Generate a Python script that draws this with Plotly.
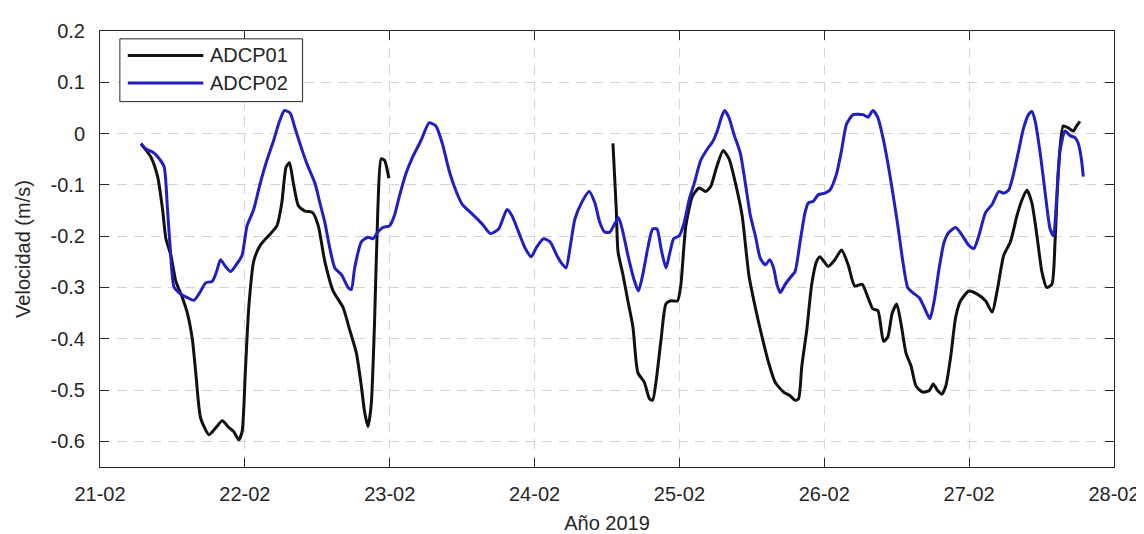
import pandas as pd
import plotly.graph_objects as go

# ---------------- data (time in days since 2019-02-21 00:00) ----------------
start_date = "2019-02-21"

adcp01_days = [
    0.283, 0.352, 0.398, 0.432, 0.455, 0.489, 0.523, 0.569, 0.604, 0.638, 0.661, 0.695,
    0.752, 0.798, 0.844, 0.889, 0.923, 0.958, 0.981, 1.003, 1.027, 1.061, 1.106, 1.164,
    1.221, 1.255, 1.285, 1.308, 1.335, 1.370, 1.415, 1.468, 1.507, 1.552, 1.610, 1.678,
    1.724, 1.770, 1.804, 1.827, 1.850, 1.872, 1.895, 1.918, 1.941, 1.964, 1.994,
    None,
    3.541, 3.564, 3.576, 3.610, 3.644, 3.679, 3.713, 3.758, 3.793, 3.815, 3.838, 3.873,
    3.907, 3.941, 3.987, 4.010, 4.044, 4.090, 4.136, 4.181, 4.216, 4.257, 4.302, 4.342,
    4.387, 4.433, 4.479, 4.524, 4.570, 4.616, 4.661, 4.719, 4.764, 4.798, 4.822, 4.845,
    4.879, 4.913, 4.947, 4.970, 5.027, 5.073, 5.119, 5.165, 5.210, 5.262, 5.302, 5.336,
    5.370, 5.409, 5.439, 5.468, 5.500, 5.530, 5.564, 5.599, 5.633, 5.679, 5.725, 5.752,
    5.782, 5.811, 5.839, 5.873, 5.907, 5.941, 5.998, 6.056, 6.113, 6.159, 6.193, 6.239,
    6.285, 6.330, 6.365, 6.399, 6.433, 6.468, 6.502, 6.536, 6.571, 6.593, 6.616, 6.650,
    6.685, 6.719, 6.742, 6.765,
]
adcp01_vel = [
    -0.020, -0.046, -0.084, -0.148, -0.205, -0.237, -0.287, -0.320, -0.351, -0.402, -0.466, -0.555,
    -0.587, -0.574, -0.560, -0.573, -0.581, -0.597, -0.581, -0.466, -0.339, -0.249, -0.218, -0.199,
    -0.180, -0.135, -0.065, -0.057, -0.097, -0.141, -0.151, -0.154, -0.180, -0.249, -0.307, -0.339,
    -0.383, -0.428, -0.492, -0.543, -0.571, -0.530, -0.371, -0.148, -0.049, -0.052, -0.087,
    None,
    -0.019, -0.148, -0.230, -0.275, -0.326, -0.377, -0.466, -0.485, -0.517, -0.520, -0.485, -0.402,
    -0.332, -0.326, -0.326, -0.294, -0.180, -0.122, -0.106, -0.113, -0.103, -0.065, -0.033, -0.049,
    -0.097, -0.160, -0.275, -0.339, -0.396, -0.447, -0.485, -0.504, -0.511, -0.520, -0.517, -0.453,
    -0.383, -0.294, -0.249, -0.240, -0.259, -0.246, -0.227, -0.256, -0.297, -0.294, -0.320, -0.342,
    -0.345, -0.405, -0.396, -0.351, -0.332, -0.371, -0.428, -0.453, -0.492, -0.504, -0.501, -0.488,
    -0.501, -0.508, -0.492, -0.434, -0.358, -0.326, -0.307, -0.313, -0.326, -0.348, -0.307, -0.237,
    -0.211, -0.160, -0.129, -0.110, -0.135, -0.199, -0.269, -0.300, -0.294, -0.211, -0.071, 0.015,
    0.011, 0.005, 0.015, 0.024,
]

adcp02_days = [
    0.283, 0.318, 0.364, 0.409, 0.443, 0.466, 0.485, 0.512, 0.558, 0.604, 0.649, 0.695,
    0.729, 0.775, 0.805, 0.832, 0.866, 0.901, 0.947, 0.981, 1.015, 1.061, 1.106, 1.152,
    1.198, 1.239, 1.273, 1.312, 1.346, 1.381, 1.427, 1.484, 1.518, 1.552, 1.587, 1.621,
    1.667, 1.713, 1.735, 1.758, 1.804, 1.850, 1.884, 1.918, 1.952, 1.998, 2.032, 2.067,
    2.112, 2.158, 2.215, 2.272, 2.318, 2.364, 2.409, 2.455, 2.501, 2.570, 2.638, 2.695,
    2.752, 2.810, 2.844, 2.890, 2.936, 2.977, 3.015, 3.062, 3.107, 3.153, 3.187, 3.217,
    3.244, 3.278, 3.324, 3.377, 3.416, 3.450, 3.484, 3.519, 3.553, 3.580, 3.610, 3.644,
    3.690, 3.717, 3.747, 3.781, 3.815, 3.845, 3.873, 3.907, 3.930, 3.960, 3.999, 4.033,
    4.067, 4.102, 4.147, 4.193, 4.227, 4.261, 4.289, 4.312, 4.342, 4.376, 4.421, 4.455,
    4.490, 4.524, 4.558, 4.593, 4.623, 4.650, 4.673, 4.696, 4.730, 4.764, 4.798, 4.833,
    4.867, 4.890, 4.924, 4.959, 5.005, 5.039, 5.085, 5.119, 5.153, 5.199, 5.267, 5.302,
    5.336, 5.370, 5.405, 5.439, 5.473, 5.508, 5.542, 5.576, 5.610, 5.656, 5.690, 5.729,
    5.759, 5.793, 5.828, 5.862, 5.908, 5.953, 5.998, 6.033, 6.067, 6.113, 6.159, 6.204,
    6.239, 6.273, 6.307, 6.342, 6.376, 6.410, 6.433, 6.456, 6.491, 6.525, 6.559, 6.582,
    6.605, 6.628, 6.662, 6.697, 6.731, 6.754, 6.776, 6.788,
]
adcp02_vel = [
    -0.019, -0.030, -0.036, -0.049, -0.065, -0.148, -0.224, -0.300, -0.313, -0.320, -0.325, -0.307,
    -0.291, -0.288, -0.269, -0.246, -0.259, -0.269, -0.253, -0.237, -0.180, -0.148, -0.097, -0.052,
    -0.014, 0.024, 0.045, 0.040, 0.011, -0.020, -0.058, -0.097, -0.135, -0.173, -0.224, -0.262,
    -0.275, -0.300, -0.304, -0.262, -0.211, -0.202, -0.205, -0.192, -0.183, -0.180, -0.160, -0.122,
    -0.078, -0.046, -0.014, 0.021, 0.015, -0.020, -0.071, -0.110, -0.138, -0.157, -0.176, -0.195,
    -0.186, -0.148, -0.160, -0.192, -0.224, -0.240, -0.221, -0.205, -0.211, -0.237, -0.253, -0.262,
    -0.224, -0.167, -0.135, -0.113, -0.135, -0.173, -0.192, -0.192, -0.176, -0.164, -0.192, -0.237,
    -0.288, -0.307, -0.275, -0.224, -0.186, -0.186, -0.224, -0.262, -0.237, -0.205, -0.199, -0.173,
    -0.129, -0.097, -0.052, -0.030, -0.017, 0.005, 0.031, 0.045, 0.031, -0.001, -0.039, -0.097,
    -0.160, -0.199, -0.243, -0.256, -0.246, -0.262, -0.294, -0.310, -0.294, -0.281, -0.269, -0.211,
    -0.154, -0.135, -0.132, -0.119, -0.116, -0.110, -0.078, -0.033, 0.018, 0.037, 0.037, 0.032,
    0.045, 0.031, -0.008, -0.058, -0.116, -0.180, -0.249, -0.300, -0.310, -0.320, -0.339, -0.361,
    -0.326, -0.262, -0.211, -0.192, -0.183, -0.199, -0.218, -0.224, -0.199, -0.154, -0.138, -0.113,
    -0.116, -0.110, -0.078, -0.033, 0.011, 0.037, 0.043, 0.024, -0.039, -0.116, -0.186, -0.199,
    -0.122, -0.033, 0.005, -0.004, -0.008, -0.020, -0.052, -0.084,
]

series_names = ["ADCP01", "ADCP02"]
series_colors = ["#111111", "#1f1fc4"]

x_tick_dates = ["2019-02-21", "2019-02-22", "2019-02-23", "2019-02-24",
                "2019-02-25", "2019-02-26", "2019-02-27", "2019-02-28"]
x_tick_labels = ["21-02", "22-02", "23-02", "24-02", "25-02", "26-02", "27-02", "28-02"]
y_tick_vals = [0.2, 0.1, 0.0, -0.1, -0.2, -0.3, -0.4, -0.5, -0.6]
y_tick_labels = ["0.2", "0.1", "0", "-0.1", "-0.2", "-0.3", "-0.4", "-0.5", "-0.6"]
y_range = [-0.65, 0.2]
x_title = "Año 2019"
y_title = "Velocidad (m/s)"


def to_time(days):
    t0 = pd.Timestamp(start_date)
    return [None if d is None else t0 + pd.to_timedelta(d, unit="D") for d in days]


FONT = "Liberation Sans, Arial, sans-serif"
AX = "#262626"

fig = go.Figure()
for days, vel, name, col in [
    (adcp01_days, adcp01_vel, series_names[0], series_colors[0]),
    (adcp02_days, adcp02_vel, series_names[1], series_colors[1]),
]:
    fig.add_trace(go.Scatter(
        x=to_time(days), y=vel, mode="lines", name=name,
        line=dict(color=col, width=3, shape="spline", smoothing=0.6),
        connectgaps=False, showlegend=False,
    ))

axis_common = dict(
    showline=True, linecolor=AX, linewidth=1, mirror="allticks",
    ticks="inside", ticklen=9, tickcolor=AX, tickwidth=1,
    showgrid=True, gridcolor="#d4d4d4", gridwidth=1, griddash="10px,7px",
    zeroline=False, tickfont=dict(family=FONT, size=20, color=AX),
)

fig.update_xaxes(
    type="date",
    range=[x_tick_dates[0], x_tick_dates[-1]],
    tickvals=x_tick_dates, ticktext=x_tick_labels,
    title=dict(text=x_title, font=dict(family=FONT, size=20, color=AX), standoff=11),
    ticklabelstandoff=9,
    **axis_common,
)
fig.update_yaxes(
    range=y_range,
    tickvals=y_tick_vals, ticktext=y_tick_labels,
    title=dict(text=y_title, font=dict(family=FONT, size=20, color=AX), standoff=14),
    ticklabelstandoff=10,
    **axis_common,
)

# legend box (drawn in paper coordinates)
lg_x0, lg_x1, lg_y0, lg_y1 = 0.0196, 0.1998, 0.838, 0.982
fig.add_shape(type="rect", xref="paper", yref="paper",
              x0=lg_x0, x1=lg_x1, y0=lg_y0, y1=lg_y1,
              line=dict(color=AX, width=1), fillcolor="white", layer="above")
for i, (name, col) in enumerate(zip(series_names, series_colors)):
    yy = 0.944 - i * 0.063
    fig.add_shape(type="line", xref="paper", yref="paper",
                  x0=0.0274, x1=0.1019, y0=yy, y1=yy,
                  line=dict(color=col, width=3), layer="above")
    fig.add_annotation(x=0.1070, y=yy, xref="paper", yref="paper",
                       text=name, showarrow=False, xanchor="left", yanchor="middle",
                       font=dict(family=FONT, size=20, color=AX))

fig.update_layout(
    width=1144, height=534,
    margin=dict(l=92, r=31, t=18, b=71),
    paper_bgcolor="white", plot_bgcolor="white",
    showlegend=False,
)

fig.write_html("out.html")
